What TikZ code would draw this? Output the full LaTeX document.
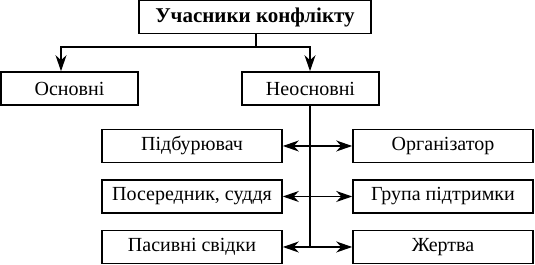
\documentclass[tikz,border=0pt]{standalone}
\usepackage{fontspec}
\setmainfont{Liberation Serif}
\usetikzlibrary{arrows.meta}
\begin{document}
\begin{tikzpicture}[x=0.5pt, y=-0.5pt,
    box/.style={draw, line width=0.8pt, rectangle, minimum height=16.5pt, inner sep=0pt, font=\fontsize{10}{12}\selectfont},
    arr/.style={line width=0.7pt, -{Stealth[length=8pt, width=5.5pt, inset=2.5pt]}}]
    \useasboundingbox (0,0) rectangle (535,265);

    % Top level
    \node[box, minimum width=116pt, font=\fontsize{10.5}{12}\selectfont\bfseries] (top) at (255,17) {Учасники конфлікту};
    \node[box, minimum width=68.5pt] (osn) at (69.5,88.5) {Основні};
    \node[box, minimum width=68.5pt] (neosn) at (310.5,88.5) {Неосновні};

    % Roles
    \node[box, minimum width=90pt] (pidb) at (192,146) {Підбурювач};
    \node[box, minimum width=90pt] (poser) at (192,196.5) {Посередник, суддя};
    \node[box, minimum width=90pt] (pasyv) at (192,247) {Пасивні свідки};
    \node[box, minimum width=90pt] (org) at (443,146) {Організатор};
    \node[box, minimum width=90pt] (grupa) at (443,196.5) {Група підтримки};
    \node[box, minimum width=90pt] (zhertva) at (443,247) {Жертва};

    % Fork below the title
    \coordinate (fork) at (256,47);
    \draw[line width=0.7pt] (top.south -| fork) -- (fork);
    \draw[arr] (fork) -| ([xshift=-4.25pt]osn.north);
    \draw[arr] (fork) -| ([xshift=-0.25pt]neosn.north);

    % Trunk and branches
    \coordinate (trunk) at (310,247);
    \draw[line width=0.7pt] (neosn.south -| trunk) -- (trunk);
    \foreach \l/\r in {pidb/org, poser/grupa, pasyv/zhertva} {
        \draw[arr] (\l.east -| trunk) -- (\l.east);
        \draw[arr] (\r.west -| trunk) -- (\r.west);
    }
\end{tikzpicture}
\end{document}
